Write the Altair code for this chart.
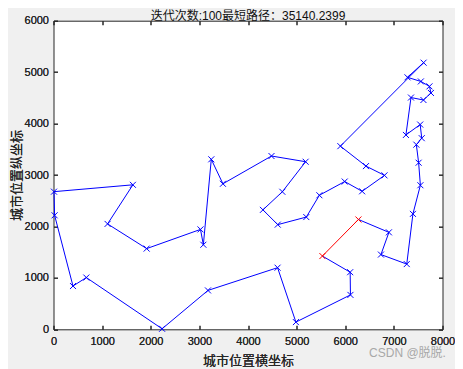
import altair as alt
import pandas as pd

# att48 city coordinates (index 1..48)
city_x = [6734, 2233, 5530, 401, 3082, 7608, 7573, 7265, 6898, 1112, 5468, 5989,
          4706, 4612, 6347, 6107, 7611, 7462, 7732, 5900, 4483, 6101, 5199, 1633,
          4307, 675, 7555, 7541, 3177, 7352, 7545, 3245, 6426, 4608, 23, 7248,
          7762, 7392, 3484, 6271, 4985, 1916, 7280, 7509, 10, 6807, 5185, 3023]
city_y = [1453, 10, 1424, 841, 1644, 4458, 3716, 1268, 1885, 2049, 2606, 2873,
          2674, 2035, 2683, 669, 5184, 3590, 4723, 3561, 3369, 1110, 2182, 2809,
          2322, 1006, 4819, 3981, 756, 4506, 2801, 3305, 3173, 1198, 2216, 3779,
          4595, 2244, 2829, 2135, 140, 1569, 4899, 3239, 2676, 2993, 3258, 1942]

# best tour
tour = [3, 40, 9, 1, 8, 38, 31, 44, 18, 7, 28, 36, 30, 6, 37, 19, 27, 43, 17, 20,
        33, 46, 15, 12, 11, 23, 14, 25, 13, 47, 21, 39, 32, 5, 48, 42, 10, 24, 45,
        35, 4, 26, 2, 29, 34, 41, 16, 22]
red_segment = [3, 40]

x_ticks = [0, 1000, 2000, 3000, 4000, 5000, 6000, 7000, 8000]
y_ticks = [0, 1000, 2000, 3000, 4000, 5000, 6000]

title_text = "迭代次数:100最短路径：35140.2399"
x_title = "城市位置横坐标"
y_title = "城市位置纵坐标"
watermark = "CSDN @脱脱."

# blue path: from the end of the red segment round the tour back to its start
blue_path = tour[1:] + [tour[0]]
route = pd.DataFrame({
    "seq": list(range(len(blue_path))),
    "x": [city_x[c - 1] for c in blue_path],
    "y": [city_y[c - 1] for c in blue_path],
})
blue_cities = [c for c in tour if c not in red_segment]
pts = pd.DataFrame({
    "x": [city_x[c - 1] for c in blue_cities],
    "y": [city_y[c - 1] for c in blue_cities],
})
red = pd.DataFrame({
    "seq": list(range(len(red_segment))),
    "x": [city_x[c - 1] for c in red_segment],
    "y": [city_y[c - 1] for c in red_segment],
})

FONT = "Liberation Sans, Arial, Noto Sans CJK SC"
AX = "#262626"
XSHAPE = "M-1,-1L1,1M-1,1L1,-1"

xs = alt.Scale(domain=[0, 8000], nice=False, zero=False)
ys = alt.Scale(domain=[0, 6000], nice=False, zero=False)

common = dict(grid=False, domain=False, tickSize=4, offset=-4, tickColor=AX,
              tickWidth=1, labelColor=AX, labelFont=FONT, labelFontSize=11,
              titleColor=AX, titleFont=FONT, titleFontSize=13,
              titleFontWeight="normal", labelFlush=False, labelOverlap=False)

x_bottom = alt.Axis(orient="bottom", values=x_ticks, format="d", title=x_title,
                    labelPadding=6, titlePadding=8, **common)
y_left = alt.Axis(orient="left", values=y_ticks, format="d", title=y_title,
                  labelPadding=5, titlePadding=1, **common)
x_top = alt.Axis(orient="top", values=x_ticks, labels=False, title=None,
                 grid=False, domain=False, tickSize=4, offset=-4, tickColor=AX)
y_right = alt.Axis(orient="right", values=y_ticks, labels=False, title=None,
                   grid=False, domain=False, tickSize=4, offset=-4, tickColor=AX)

blue_line = alt.Chart(route).mark_line(color="#0000ff", strokeWidth=1).encode(
    x=alt.X("x:Q", scale=xs, axis=x_bottom),
    y=alt.Y("y:Q", scale=ys, axis=y_left),
    order="seq:Q",
)
blue_pts = alt.Chart(pts).mark_point(shape=XSHAPE, filled=False, color="#0000ff",
                                     strokeWidth=1, size=36, opacity=1).encode(
    x=alt.X("x:Q", scale=xs, axis=x_bottom),
    y=alt.Y("y:Q", scale=ys, axis=y_left),
)
red_line = alt.Chart(red).mark_line(color="#ff0000", strokeWidth=1).encode(
    x=alt.X("x:Q", scale=xs, axis=x_top),
    y=alt.Y("y:Q", scale=ys, axis=y_right),
    order="seq:Q",
)
red_pts = alt.Chart(red).mark_point(shape=XSHAPE, filled=False, color="#ff0000",
                                    strokeWidth=1, size=36, opacity=1).encode(
    x=alt.X("x:Q", scale=xs, axis=x_top),
    y=alt.Y("y:Q", scale=ys, axis=y_right),
)
wm = alt.Chart(pd.DataFrame({"t": [watermark]})).mark_text(
    font=FONT, fontSize=12, color="#a8a8a8", align="center", baseline="middle"
).encode(text="t:N", x=alt.value(354), y=alt.value(332))

chart = alt.layer(blue_line, blue_pts, red_line, red_pts, wm).resolve_axis(
    x="independent", y="independent"
).properties(
    width=389, height=308.6,
    autosize=alt.AutoSizeParams(type="none"),
    padding={"left": 45.5, "top": 12.7, "right": 12.5, "bottom": 39.7},
    title=alt.TitleParams(text=title_text, font=FONT, fontSize=12,
                          fontWeight="normal", color="#111111", offset=2,
                          dy=10, anchor="middle"),
).configure(background="#f0f0f0").configure_view(
    fill="white", stroke=AX, strokeWidth=1
)

chart.save("out.html", embed_options={"renderer": "svg", "actions": False})
